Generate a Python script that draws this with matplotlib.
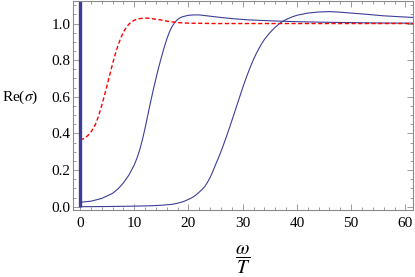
import matplotlib
matplotlib.use("Agg")
import matplotlib.pyplot as plt
from matplotlib.ticker import MultipleLocator

plt.rcParams['font.family'] = ['Liberation Serif', 'DejaVu Serif']
plt.rcParams['mathtext.fontset'] = 'stix'

# Data
x_a = [0, 2, 4, 6, 7, 8, 9, 10, 10.5, 11, 11.5, 12, 12.5, 13, 13.5, 14, 14.5, 15,
       15.5, 16, 16.5, 17, 17.5, 18, 18.5, 19, 20, 21, 22, 24, 26, 28, 31, 35, 40,
       45, 50, 55, 61.5]
y_a = [0.024, 0.030, 0.045, 0.073, 0.097, 0.130, 0.172, 0.228, 0.265, 0.310, 0.365,
       0.430, 0.500, 0.570, 0.637, 0.700, 0.760, 0.815, 0.868, 0.915, 0.955, 0.985,
       1.007, 1.022, 1.032, 1.038, 1.045, 1.047, 1.047, 1.040, 1.033, 1.027, 1.020,
       1.015, 1.010, 1.007, 1.005, 1.003, 1.002]

x_b = [0, 5, 10, 13, 15, 17, 18, 19, 20, 20.5, 21, 21.5, 22, 22.5, 23, 23.5, 24,
       24.5, 25, 25.5, 26, 26.5, 27, 27.5, 28, 28.5, 29, 29.5, 30, 30.5, 31, 31.5,
       32, 32.5, 33, 33.5, 34, 34.5, 35, 36, 37, 38, 39, 40, 42, 44, 46, 48, 50, 53,
       56, 61.5]
y_b = [0.0, 0.001, 0.003, 0.005, 0.008, 0.013, 0.019, 0.027, 0.040, 0.047, 0.056,
       0.067, 0.080, 0.094, 0.110, 0.133, 0.160, 0.193, 0.230, 0.265, 0.302, 0.342,
       0.383, 0.426, 0.470, 0.515, 0.560, 0.605, 0.650, 0.692, 0.732, 0.770, 0.805,
       0.836, 0.864, 0.890, 0.913, 0.932, 0.950, 0.980, 1.005, 1.022, 1.035, 1.045,
       1.057, 1.063, 1.065, 1.062, 1.057, 1.050, 1.042, 1.033]

x_r = [0, 0.5, 1, 1.5, 2, 2.5, 3, 3.5, 4, 4.5, 5, 5.5, 6, 6.5, 7, 7.5, 8, 8.5, 9,
       9.5, 10, 11, 12, 13, 14, 15, 16, 17, 18, 20, 25, 61.5]
y_r = [0.366, 0.369, 0.378, 0.390, 0.407, 0.430, 0.460, 0.503, 0.553, 0.607, 0.664,
       0.722, 0.780, 0.833, 0.880, 0.920, 0.953, 0.978, 0.996, 1.009, 1.018, 1.027,
       1.030, 1.028, 1.023, 1.019, 1.013, 1.009, 1.005, 1.002, 1.000, 1.000]

delta_x = [0, 0]
delta_y = [0, 1.2]

blue = '#3d3d99'
frame = '#8c8c8c'

fig = plt.figure(figsize=(4.15, 2.77), dpi=100)
ax = fig.add_axes([73.3 / 415, 1 - 210 / 277, (413 - 73.3) / 415, 209 / 277])

ax.plot(x_a, y_a, color=blue, lw=0.8)
ax.plot(x_b, y_b, color=blue, lw=0.8)
ax.plot(x_r, y_r, color='red', lw=1.0, dashes=(3, 1.8))
ax.plot(delta_x, delta_y, color=blue, lw=2.4, solid_capstyle='butt')

ax.set_xlim(-1.24, 61.4)
ax.set_ylim(-0.018, 1.123)

ax.xaxis.set_major_locator(MultipleLocator(10))
ax.xaxis.set_minor_locator(MultipleLocator(2))
ax.yaxis.set_major_locator(MultipleLocator(0.2))
ax.yaxis.set_minor_locator(MultipleLocator(0.05))
ax.yaxis.set_major_formatter(matplotlib.ticker.FormatStrFormatter('%.1f'))

for s in ax.spines.values():
    s.set_color(frame)
    s.set_linewidth(0.8)

ax.tick_params(which='both', direction='in', top=True, right=True, color=frame,
               width=0.6, labelsize=11, labelcolor='black')
ax.tick_params(which='major', length=4)
ax.tick_params(which='minor', length=2)
ax.tick_params(axis='y', pad=2)
ax.tick_params(axis='x', pad=5)

fig.text(20 / 415, 1 - 97 / 277, r'Re($\sigma$)', ha='center', va='center', fontsize=11)
fig.text(243 / 415, 1 - 260 / 277, r'$\dfrac{\omega}{T}$', ha='center', va='center', fontsize=14)

fig.savefig('out.png', dpi=100)
